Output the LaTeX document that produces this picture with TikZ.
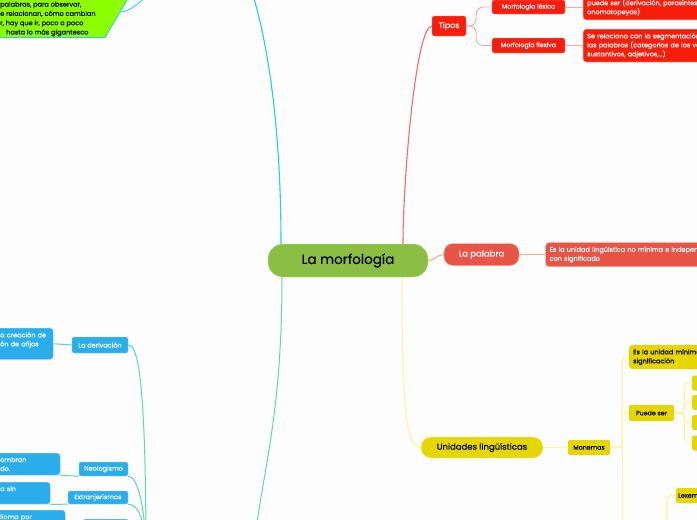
\documentclass[tikz,border=0pt]{standalone}
\usepackage{fontspec}
\setmainfont{Poppins}[FakeBold=0.3]
\definecolor{bgcol}{HTML}{FDFDFD}
\definecolor{rootgreen}{HTML}{8BBF43}
\definecolor{tiposred}{HTML}{FA1E0A}
\definecolor{redline}{HTML}{F26C6C}
\definecolor{redlight}{HTML}{F7A8A8}
\definecolor{palred}{HTML}{E85546}
\definecolor{palline}{HTML}{FFAD85}
\definecolor{unyellow}{HTML}{E5D600}
\definecolor{yelline}{HTML}{FFF59D}
\definecolor{skyblue}{HTML}{2AADEB}
\definecolor{skylight}{HTML}{8FD3F5}
\definecolor{mintline}{HTML}{5CDBAA}
\definecolor{cyanline}{HTML}{1ED2DE}
\definecolor{limegreen}{HTML}{8CFF00}
\tikzset{
  root/.style={fill=rootgreen, draw=rootgreen!60!white, rounded corners=15pt,
    minimum width=160pt, minimum height=33pt, font=\fontsize{13.5}{16}\selectfont},
  tiposbox/.style={fill=tiposred, draw=redlight, rounded corners=2pt, text=white,
    font=\fontsize{8}{10}\selectfont, minimum width=34pt, minimum height=20pt, inner sep=2pt},
  redbox/.style={fill=tiposred, draw=redlight, rounded corners=1.5pt, text=white,
    font=\fontsize{6.3}{8}\selectfont, inner sep=2pt},
  desc/.style={rounded corners=3pt, align=left, inner sep=4pt,
    font=\fontsize{6.5}{9}\selectfont, text width=#1, anchor=north west},
  palbox/.style={fill=palred, draw=palline, rounded corners=9pt, text=white,
    font=\fontsize{8.5}{10}\selectfont, minimum width=75pt, minimum height=22pt},
  unbox/.style={fill=unyellow, draw=yelline, rounded corners=10pt,
    font=\fontsize{8.5}{10}\selectfont, minimum width=122pt, minimum height=21pt},
  ybox/.style={fill=unyellow, rounded corners=2pt, inner sep=2pt, font=\fontsize{6.3}{8}\selectfont},
  bbox/.style={fill=skyblue, draw=skylight, rounded corners=2pt, inner sep=2pt, text=white,
    font=\fontsize{6.5}{8}\selectfont},
  bdesc/.style={desc=#1, fill=skyblue, draw=skylight, text=white},
  redconn/.style={redline, line width=1.1pt},
  subred/.style={redlight, line width=0.9pt},
  palconn/.style={palline, line width=1.1pt},
  yelconn/.style={yelline, line width=1.1pt},
  mintconn/.style={mintline, line width=1pt},
  cyanconn/.style={cyanline, line width=1.1pt},
}
\begin{document}
\begin{tikzpicture}[x=1pt,y=1pt]
  \useasboundingbox (0,0) rectangle (697,-520);
  \fill[bgcol] (0,0) rectangle (697,-520);
  \clip (0,0) rectangle (697,-520);

  % centro
  \node[root] (root) at (348,-260.5) {La morfología};

  % tipos
  \node[tiposbox] (tipos) at (449,-26) {Tipos};
  \node[redbox, minimum width=73pt, minimum height=14pt] (mlex) at (528.5,-7) {Morfología léxica};
  \node[redbox, minimum width=73pt, minimum height=15pt] (mflex) at (528.5,-45.5) {Morfología flexiva};
  \node[desc=200pt, fill=tiposred, draw=redlight, text=white] (lexdesc) at (583,8)
    {\mbox{}\\ puede ser (derivación, parasíntesis,\\ onomatopeyas)};
  \node[desc=200pt, fill=tiposred, draw=redlight, text=white] (flexdesc) at (583,-29)
    {Se relaciona con la segmentación de\\ las palabras (categorías de los verbos,\\ sustantivos, adjetivos,...)};

  % la palabra
  \node[palbox] (palabra) at (481.5,-254.5) {La palabra};
  \node[desc=200pt, fill=palred, draw=palline, text=white] (paldesc) at (545.5,-242.5)
    {Es la unidad lingüística no mínima e independiente\\ con significado};

  % unidades
  \node[unbox] (unidades) at (482,-447.5) {Unidades lingüísticas};
  \node[ybox, minimum width=42pt, minimum height=15pt] (monemas) at (589,-447.5) {Monemas};
  \node[desc=200pt, fill=unyellow] (unimin) at (629,-345) {Es la unidad mínima de\\ significación};
  \node[ybox, minimum width=45pt, minimum height=16pt] (puede) at (651.5,-413) {Puede ser};
  \foreach \y [count=\i] in {383,402.5,422.5,443}
    \node[ybox, minimum width=20pt, minimum height=15pt, anchor=west] (ps\i) at (692,-\y) {};
  \node[ybox, minimum height=15pt, anchor=west] (lexemas) at (676,-495.5) {Lexemas};
  \coordinate (monbelow) at (640,-560);
  \coordinate (lexbelow) at (667,-560);

  % formacion (azul)
  \node[bbox, minimum width=56pt, minimum height=16pt] (derivacion) at (100,-345) {La derivación};
  \node[bdesc=49pt] (derdesc) at (-4,-328) {a creación de\\ ón de afijos\\ \mbox{}};
  \node[bbox, minimum width=49pt, minimum height=14pt] (neologismo) at (103.5,-469) {Neologismo};
  \node[bdesc=56pt] (neodesc) at (-4,-453) {ombran\\ do.};
  \node[bbox, minimum width=60pt, minimum height=13pt] (extranj) at (98,-497.5) {Extranjerismos};
  \node[bdesc=46pt] (extdesc) at (-4,-482) {a sin\\ \mbox{}};
  \node[bbox, minimum width=45pt, minimum height=16pt, anchor=north west] (ultimo) at (83,-519) {};
  \node[bdesc=61pt] (ultdesc) at (-4,-510) {lioma por\\ \mbox{}};
  \coordinate (formacion) at (146,-560);
  \coordinate (mintend) at (252,-560);

  % recuadro verde
  \filldraw[fill=limegreen, draw=cyanline, line width=0.8pt] (-5,5) -- (130,5) -- (105,-37.5) -- (-5,-37.5) -- cycle;
  \node[anchor=north west, align=left, inner sep=0pt, font=\fontsize{6.6}{9.3}\selectfont] (gtext) at (0,-1.5)
    {palabras, para observar,\\ e relacionan, cómo cambian\\ r, hay que ir, poco a poco\\ \hspace{6pt}hasta lo más gigantesco};
  \coordinate (gattach) at (120.5,-12);
  \coordinate (gparent) at (150,10);
  \coordinate (cyanend) at (248,20);

  % conectores
  \draw[redconn] ([xshift=55pt]root.north) .. controls +(0,64) and +(-16,0) .. (tipos.west);
  \draw[subred, rounded corners=7pt] (tipos.east) -- +(10,0) |- (mlex.west);
  \draw[subred, rounded corners=7pt] (tipos.east) -- +(10,0) |- (mflex.west);
  \draw[subred] (mlex.east) -- (mlex.east -| lexdesc.west);
  \draw[subred] (mflex.east) -- (mflex.east -| flexdesc.west);

  \draw[palconn] (root.east) to[out=0,in=180] (palabra.west);
  \draw[palconn] (palabra.east) -- (palabra.east -| paldesc.west);

  \draw[yelconn] ([xshift=54pt]root.south) .. controls +(0,-123) and +(-16,0) .. (unidades.west);
  \draw[yelconn] (unidades.east) -- (monemas.west);
  \draw[yelconn, rounded corners=4pt] (monemas.east) -- +(12,0) |- (unimin.west);
  \draw[yelconn, rounded corners=4pt] (monemas.east) -- +(12,0) |- (puede.west);
  \draw[yelconn] (monemas.east) -- +(12,0) |- (monbelow);
  \foreach \i in {1,...,4}
    \draw[yelconn, rounded corners=4pt] (puede.east) -- +(10,0) |- (ps\i.west);
  \draw[yelconn, rounded corners=4pt] (lexemas.west) -| (lexbelow);

  \draw[cyanconn] ([xshift=-67pt]root.north) .. controls +(0,124) and +(18,-50) .. (cyanend);
  \draw[cyanline, line width=0.8pt] (gattach) .. controls +(10,0) and +(-4,-8) .. (gparent);

  \draw[mintconn] ([xshift=-66pt]root.south) .. controls +(0,-143) and +(10,90) .. (mintend);
  \draw[mintconn] (derdesc.east) -- (derivacion.west);
  \draw[mintconn] (neodesc.south east) -- (neologismo.south west);
  \draw[mintconn] (extdesc.south east) -- (extranj.south west);
  \draw[mintconn] (ultdesc.south east) -- (ultimo.south west);
  \draw[mintconn] (derivacion.east) .. controls +(10,0) and +(0,180) .. (formacion);
  \draw[mintconn] (neologismo.south east) .. controls +(10,0) and +(0,50) .. (formacion);
  \draw[mintconn] (extranj.south east) .. controls +(10,0) and +(0,40) .. (formacion);
  \draw[mintconn] (ultimo.south east) .. controls +(10,0) and +(0,20) .. (formacion);
\end{tikzpicture}
\end{document}
